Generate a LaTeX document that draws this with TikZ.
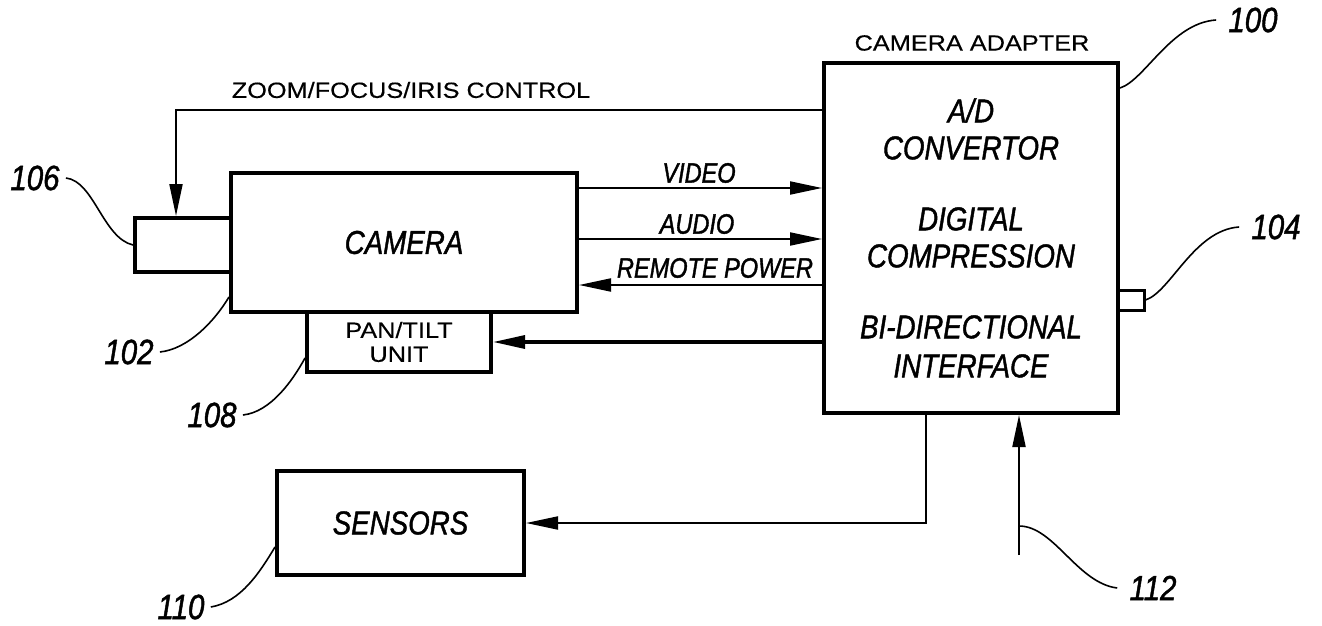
\documentclass[tikz,border=0pt]{standalone}
\usepackage{fontspec}
\newfontfamily\condfont[FakeStretch=0.84, FakeBold=1.3]{Liberation Sans}
\newfontfamily\widefont[FakeStretch=1.15, FakeBold=0.4]{Liberation Sans}
\usetikzlibrary{arrows.meta}

\begin{document}
\begin{tikzpicture}[
  x=0.5pt, y=-0.5pt,
  box/.style={draw, line width=2pt, inner sep=0pt, align=center,
              font=\condfont\itshape\fontsize{16.5}{18.5}\selectfont},
  sig/.style={inner sep=0pt, font=\condfont\itshape\fontsize{14}{16}\selectfont},
  captext/.style={inner sep=0pt, font=\widefont\fontsize{11}{12}\selectfont},
  refno/.style={inner sep=0pt, font=\condfont\itshape\fontsize{17.5}{19}\selectfont},
  arr/.style={-{Triangle[length=16pt,width=6.5pt]}, line width=1pt},
  lead/.style={line width=0.8pt}
]
\useasboundingbox (0,0) rectangle (1322,626);

% blocks
\node[box, minimum width=173pt, minimum height=69.5pt] (cam) at (404,242.5) {CAMERA};
\node[box, minimum width=48pt, minimum height=27pt] (lens) at (183,245) {};
\node[box, captext, minimum width=92pt, minimum height=30pt] (pan) at (399,342) {PAN/TILT\\UNIT};
\node[box, minimum width=147pt, minimum height=175pt] (adapt) at (971,238)
  {A/D\\CONVERTOR\\[17pt]DIGITAL\\COMPRESSION\\[17pt]BI-DIRECTIONAL\\[1pt]INTERFACE};
\node[draw, line width=1.5pt, inner sep=0pt, minimum width=13pt, minimum height=10pt] (port) at (1131,300) {};
\node[box, minimum width=123.5pt, minimum height=52pt] (sens) at (400.5,523) {SENSORS};
\node[captext] (title) at (972,43) {CAMERA ADAPTER};
\node[captext] (zlab) at (411,90) {ZOOM/FOCUS/IRIS CONTROL};

% signal labels
\node[sig] (vlab) at (699,173) {VIDEO};
\node[sig] (alab) at (697,224) {AUDIO};
\node[sig] (plab) at (715,268) {REMOTE POWER};

% reference numerals
\node[refno] (n100) at (1253,20) {100};
\node[refno] (n104) at (1276,227) {104};
\node[refno] (n106) at (35,178) {106};
\node[refno] (n102) at (129,352) {102};
\node[refno] (n108) at (212,415) {108};
\node[refno] (n110) at (181,607) {110};
\node[refno] (n112) at (1153,588) {112};

% connectors
\coordinate (zm) at (176,110);
\draw[arr] (zm -| adapt.west) -| (lens.north -| zm);
\draw[arr] (cam.east |- 0,188) -- (adapt.west |- 0,188);
\draw[arr] (cam.east |- 0,239) -- (adapt.west |- 0,239);
\draw[arr] (adapt.west |- 0,285) -- (cam.east |- 0,285);
\draw[arr, line width=1.6pt] (adapt.west |- pan.east) -- (pan.east);
\coordinate (dn) at (926,519);
\draw[arr] (adapt.south -| dn) |- (sens.east);
\coordinate (in) at (1019,555);
\draw[arr] (in) -- (in |- adapt.south);

% leaders
\draw[lead] (adapt.east |- 0,88) .. controls +(25,-8) and +(-45,3) .. ([xshift=-6pt]n100.west);
\draw[lead] (port.east) .. controls +(25,-8) and +(-45,3) .. ([xshift=-6pt]n104.west);
\draw[lead] ([xshift=3pt]n106.east) .. controls +(28,3) and +(-30,-7) .. (lens.west);
\draw[lead] ([xshift=3pt]n102.east) .. controls +(28,-3) and +(-15,25) .. (cam.west |- 0,297);
\draw[lead] ([xshift=3pt]n108.east) .. controls +(28,-3) and +(-12,22) .. (pan.west |- 0,358);
\draw[lead] ([xshift=3pt]n110.east) .. controls +(30,-5) and +(-15,25) .. (sens.west |- 0,547);
\draw[lead] ([yshift=14.5pt]in) .. controls +(35,0) and +(-40,-5) .. ([xshift=-6pt]n112.west);
\end{tikzpicture}
\end{document}
